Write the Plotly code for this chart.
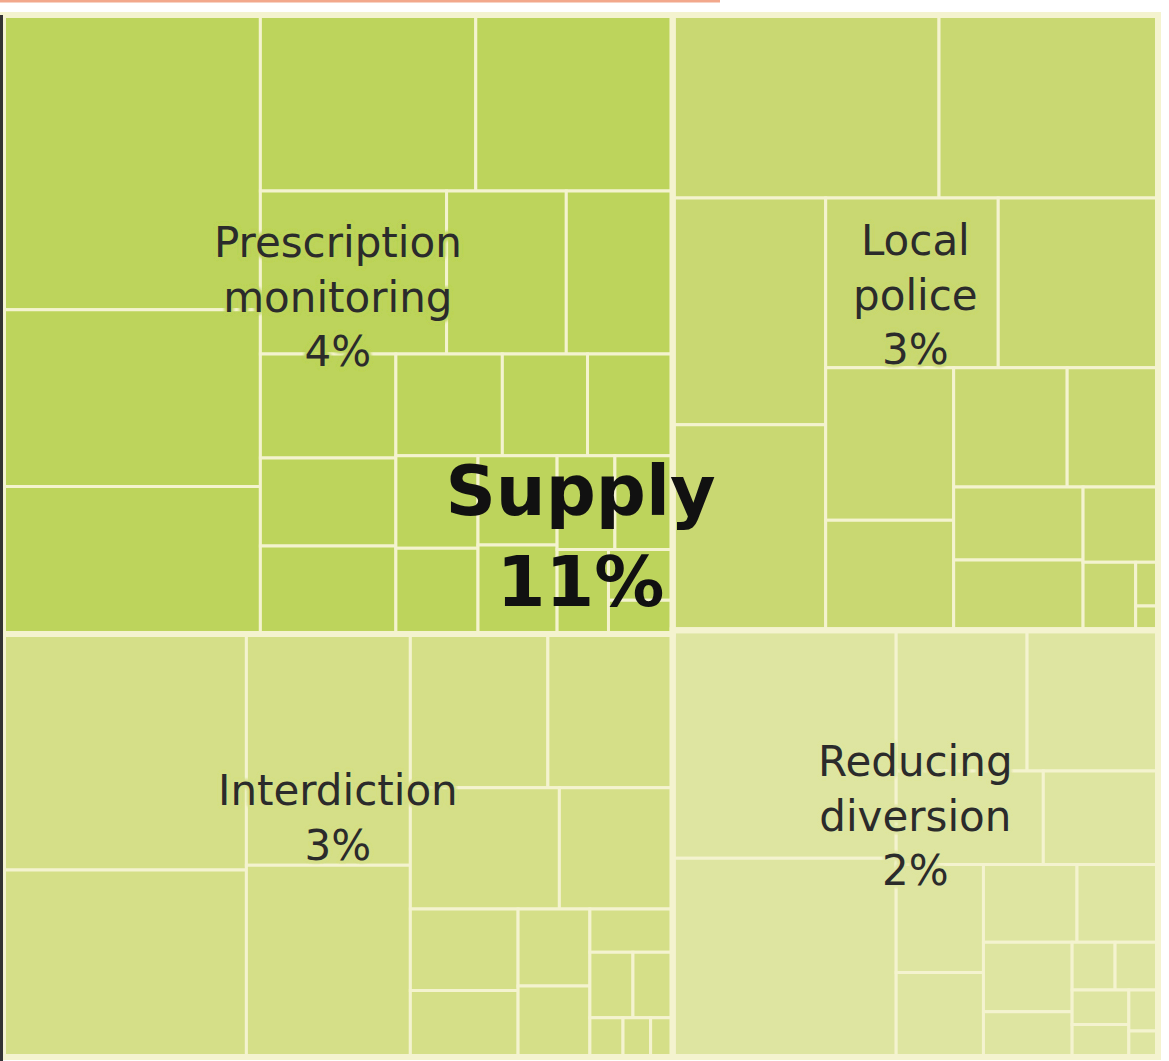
import plotly.graph_objects as go

# ---------------- data (share of total spending, %) ----------------
category_ids = ["pm", "int", "lp", "rd"]
category_names = ["Prescription<br>monitoring", "Interdiction", "Local<br>police", "Reducing<br>diversion"]
group_name = "Supply"

pm_items = [0.70, 0.42, 0.35, 0.35, 0.32, 0.28, 0.18, 0.16, 0.13, 0.11, 0.11, 0.10,
            0.08, 0.08, 0.07, 0.065, 0.065, 0.065, 0.05, 0.05, 0.04, 0.03, 0.02]
int_items = [0.53, 0.42, 0.35, 0.29, 0.195, 0.177, 0.167, 0.127, 0.081, 0.066,
             0.051, 0.047, 0.033, 0.026, 0.024, 0.012, 0.010, 0.008]
lp_items = [0.45, 0.37, 0.32, 0.29, 0.27, 0.25, 0.18, 0.13, 0.125, 0.10,
            0.087, 0.084, 0.052, 0.033, 0.009, 0.005]
rd_items = [0.47, 0.41, 0.17, 0.17, 0.127, 0.099, 0.087, 0.068, 0.067, 0.058,
            0.057, 0.037, 0.019, 0.019, 0.018, 0.017, 0.011, 0.007]

# ---------------- styles ----------------
category_colors = ["#BDD45C", "#D5DF88", "#C9D872", "#DEE5A1"]
line_color = "#F4F3CF"
transparent = "rgba(0,0,0,0)"
font_family = "DejaVu Sans"

items_by_cat = [pm_items, int_items, lp_items, rd_items]
cat_sums = [sum(v) for v in items_by_cat]
total = sum(cat_sums)

# ---------- trace 1: all cells ----------
ids = ["supply"] + category_ids
parents = [""] + ["supply"] * len(category_ids)
values = [0] * (1 + len(category_ids))
colors = [transparent] + category_colors
widths = [0] + [0] * len(category_ids)
for cid, col, items in zip(category_ids, category_colors, items_by_cat):
    for i, v in enumerate(items):
        ids.append(f"{cid}-{i}")
        parents.append(cid)
        values.append(v)
        colors.append(col)
        widths.append(3)

tiling = dict(packing="squarify", squarifyratio=1, pad=0)
no_pad = dict(t=0, l=0, r=0, b=0)

fig = go.Figure()
fig.add_trace(go.Treemap(
    ids=ids, labels=ids, parents=parents, values=values,
    branchvalues="remainder", sort=False,
    marker=dict(colors=colors, line=dict(color=line_color, width=widths), pad=no_pad),
    tiling=tiling, textinfo="none", pathbar=dict(visible=False),
    hoverinfo="skip",
))

# ---------- trace 2: category outlines + labels ----------
halo = ["none"] + [", ".join([f"0px 0px 4px {c}"] * 6) for c in category_colors]
fig.add_trace(go.Treemap(
    ids=["supply"] + category_ids,
    labels=["supply"] + category_ids,
    parents=[""] + ["supply"] * len(category_ids),
    values=[0] + cat_sums,
    text=[""] + category_names,
    branchvalues="remainder", sort=False,
    marker=dict(colors=[transparent] * 5,
                line=dict(color=line_color, width=[0] + [6] * len(category_ids)),
                pad=no_pad),
    tiling=tiling,
    texttemplate=[""] + ["%{text}<br>%{value:.0f}%<br>&nbsp;"] * len(category_ids),
    textposition="middle center",
    textfont=dict(family=font_family, size=42, color="#2B2B2B", shadow=halo),
    pathbar=dict(visible=False),
    hoverinfo="skip",
))

# ---------- trace 3: group label ----------
fig.add_trace(go.Treemap(
    ids=["supply"], labels=[group_name], parents=[""], values=[total],
    marker=dict(colors=[transparent], line=dict(width=0), pad=no_pad),
    tiling=tiling,
    texttemplate="<b>%{label}</b><br><b>%{value:.0f}%</b>",
    textposition="middle center",
    textfont=dict(family=font_family, size=70, color="#111111"),
    pathbar=dict(visible=False),
    hoverinfo="skip",
))

W, H = 1169, 1061
ml, mr, mt, mb = 3, 11, 15, 4
pw, ph = W - ml - mr, H - mt - mb

fig.update_layout(
    width=W, height=H,
    margin=dict(l=ml, r=mr, t=mt, b=mb, pad=0),
    paper_bgcolor="white",
    showlegend=False,
    shapes=[
        dict(type="rect", xref="paper", yref="paper", x0=-ml / pw, x1=0,
             y0=-mb / ph, y1=1, fillcolor="#333333", line=dict(width=0), layer="above"),
        dict(type="rect", xref="paper", yref="paper", x0=-ml / pw, x1=(720 - ml) / pw,
             y0=1 + (mt - 2.5) / ph, y1=1 + mt / ph, fillcolor="#F2A88C",
             line=dict(width=0), layer="above"),
    ],
)

fig.write_html("out.html")
